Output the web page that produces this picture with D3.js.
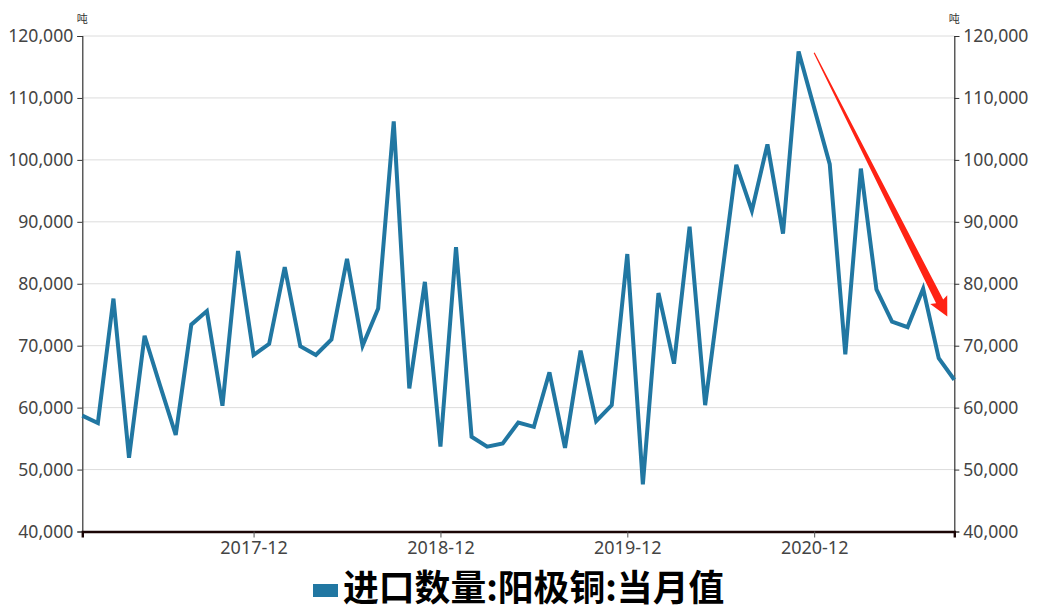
<!DOCTYPE html>
<html>
<head>
<meta charset="utf-8">
<script src="https://cdn.jsdelivr.net/npm/d3@7"></script>
<style>
  html, body { margin: 0; padding: 0; background: #fff; }
  svg { display: block; }
</style>
</head>
<body>
<svg id="chart" width="1037" height="610"></svg>
<script>
// ---------------- data ----------------
const months = [
  "2017-01","2017-02","2017-03","2017-04","2017-05","2017-06","2017-07","2017-08","2017-09","2017-10","2017-11","2017-12",
  "2018-01","2018-02","2018-03","2018-04","2018-05","2018-06","2018-07","2018-08","2018-09","2018-10","2018-11","2018-12",
  "2019-01","2019-02","2019-03","2019-04","2019-05","2019-06","2019-07","2019-08","2019-09","2019-10","2019-11","2019-12",
  "2020-01","2020-02","2020-03","2020-04","2020-05","2020-06","2020-07","2020-08","2020-09","2020-10","2020-11","2020-12",
  "2021-01","2021-02","2021-03","2021-04","2021-05","2021-06","2021-07","2021-08","2021-09"
];
const values = [
  58700, 57500, 77600, 51900, 71600, 63500, 55600, 73400, 75600, 60300, 85300, 68500,
  70300, 82700, 69900, 68500, 71000, 84000, 70000, 76000, 106200, 63100, 80300, 53700,
  85900, 55300, 53700, 54200, 57600, 56900, 65700, 53500, 69200, 57800, 60400, 84800,
  47600, 78500, 67100, 89200, 60400, 79800, 99200, 91800, 102500, 88100, 117500, 108400,
  99300, 68600, 98600, 79100, 73900, 73000, 79200, 68000, 64500
];
const xTickLabels = ["2017-12", "2018-12", "2019-12", "2020-12"];
const yTickValues = [40000, 50000, 60000, 70000, 80000, 90000, 100000, 110000, 120000];
const seriesName = "进口数量:阳极铜:当月值";
const unitLabel = "吨";
// trend annotation (arrow) in data coordinates: [month index, value]
const arrowStart = [47, 117300];
const arrowEnd = [55.55, 74700];

// ---------------- layout ----------------
const W = 1037, H = 610;
const mLeft = 82.3, mRight = 954.3, mTop = 36, mBottom = 531.5;
const lineColor = "#2177a2";

const svg = d3.select("#chart");

const x = d3.scalePoint().domain(months).range([mLeft, mRight]);
const xi = d3.scaleLinear().domain([0, months.length - 1]).range([mLeft, mRight]);
const y = d3.scaleLinear().domain([40000, 120000]).range([mBottom, mTop]);

const fmt = d3.format(",");

// gridlines
svg.append("g")
  .selectAll("line")
  .data(yTickValues)
  .join("line")
  .attr("x1", mLeft).attr("x2", mRight)
  .attr("y1", d => y(d)).attr("y2", d => y(d))
  .attr("stroke", "#dcdcdc").attr("stroke-width", 1);

// left axis
const yAxisL = svg.append("g")
  .attr("transform", `translate(${mLeft},0)`)
  .call(d3.axisLeft(y).tickValues(yTickValues).tickFormat(fmt).tickSize(5).tickPadding(4));
// right axis
const yAxisR = svg.append("g")
  .attr("transform", `translate(${mRight},0)`)
  .call(d3.axisRight(y).tickValues(yTickValues).tickFormat(fmt).tickSize(5).tickPadding(4));

[yAxisL, yAxisR].forEach(g => {
  g.select(".domain").attr("stroke", "#333").attr("stroke-width", 1.2);
  g.selectAll(".tick line").attr("stroke", "#333");
  g.selectAll(".tick text")
    .attr("fill", "#444")
    .style("font-family", "'Noto Sans', 'Open Sans', sans-serif")
    .style("font-size", "17.6px");
});

// bottom axis
const xAxis = svg.append("g")
  .attr("transform", `translate(0,${mBottom})`)
  .call(d3.axisBottom(x).tickValues(xTickLabels).tickSize(6).tickPadding(4));
xAxis.select(".domain").attr("stroke", "#1a0505").attr("stroke-width", 2.4);
xAxis.selectAll(".tick line").attr("stroke", "#555");
xAxis.selectAll(".tick text")
  .attr("fill", "#444")
  .style("font-family", "'Noto Sans', 'Open Sans', sans-serif")
  .style("font-size", "18px");

// unit labels
[mLeft, mRight].forEach(px => {
  svg.append("text").attr("x", px).attr("y", 23).attr("text-anchor", "middle")
    .style("font-family", "'Noto Sans CJK SC', sans-serif").style("font-size", "11px")
    .attr("fill", "#333").text(unitLabel);
});

// line
const line = d3.line()
  .x((d, i) => x(months[i]))
  .y(d => y(d));
svg.append("path")
  .datum(values)
  .attr("fill", "none")
  .attr("stroke", lineColor)
  .attr("stroke-width", 4)
  .attr("stroke-linejoin", "miter")
  .attr("stroke-miterlimit", 4)
  .attr("d", line);

// arrow annotation (tapered)
(function () {
  const sx = xi(arrowStart[0]), sy = y(arrowStart[1]);
  const tx = xi(arrowEnd[0]), ty = y(arrowEnd[1]);
  const dx = tx - sx, dy = ty - sy, L = Math.hypot(dx, dy);
  const ux = dx / L, uy = dy / L, nx = -uy, ny = ux;
  const headLen = 17, headHalf = 9.5, shaftEnd = 4, shaftStart = 0.6;
  const bx = tx - ux * headLen, by = ty - uy * headLen;
  const hx = tx - ux * (headLen + 2), hy = ty - uy * (headLen + 2);
  const pts = [
    [sx + nx * shaftStart, sy + ny * shaftStart],
    [bx + nx * shaftEnd, by + ny * shaftEnd],
    [hx + nx * headHalf, hy + ny * headHalf],
    [tx, ty],
    [hx - nx * headHalf, hy - ny * headHalf],
    [bx - nx * shaftEnd, by - ny * shaftEnd],
    [sx - nx * shaftStart, sy - ny * shaftStart]
  ];
  svg.append("path")
    .attr("d", "M" + pts.map(p => p.join(",")).join("L") + "Z")
    .attr("fill", "#ff2314");
})();

// legend
const legendG = svg.append("g");
const rectW = 25, gap = 5, legendX = 313;
legendG.append("rect").attr("x", legendX).attr("y", 584).attr("width", rectW).attr("height", 13).attr("fill", lineColor);
legendG.append("text")
  .attr("x", legendX + rectW + gap)
  .attr("y", 601)
  .style("font-family", "'Noto Sans CJK SC', sans-serif")
  .style("font-weight", "bold")
  .style("font-size", "35.8px")
  .attr("fill", "#000")
  .text(seriesName);
</script>
</body>
</html>
